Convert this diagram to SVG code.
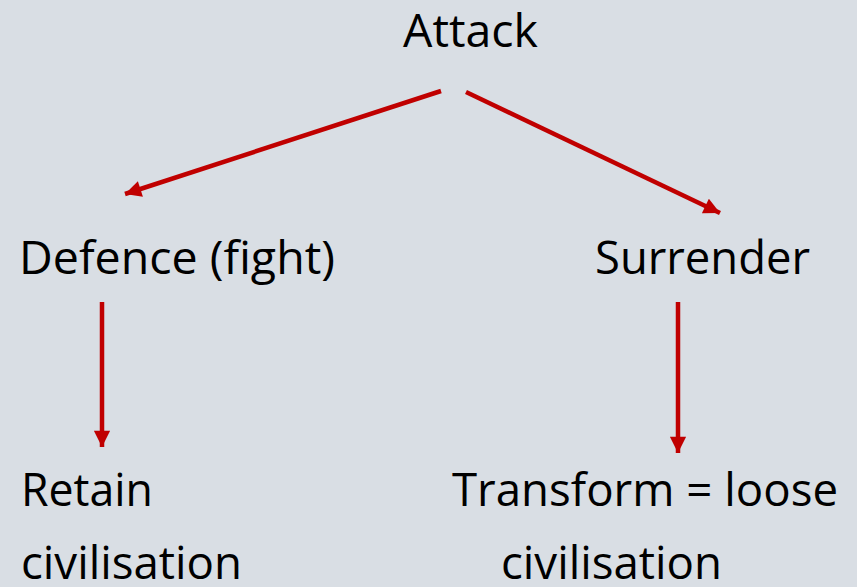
<svg xmlns="http://www.w3.org/2000/svg" width="857" height="587" viewBox="0 0 857 587">
<defs>
<style>
.t{font-family:"Open Sans","Noto Sans","Liberation Sans",sans-serif;font-size:46px;fill:#000;}
.c{stroke:#C00000;stroke-width:4.5;fill:none;}
</style>
<marker id="ah" viewBox="0 0 10 10" refX="10" refY="5" markerWidth="4" markerHeight="3.6" markerUnits="strokeWidth" orient="auto">
<path d="M0,0 L10,5 L0,10 z" fill="#C00000"/>
</marker>
</defs>
<rect width="857" height="587" fill="#D9DEE4"/>
<g id="connectors">
<line class="c" x1="441" y1="91" x2="125" y2="194" marker-end="url(#ah)"/>
<line class="c" x1="466" y1="92" x2="720" y2="213" marker-end="url(#ah)"/>
<line class="c" x1="102" y1="302" x2="102" y2="447" marker-end="url(#ah)"/>
<line class="c" x1="678" y1="302" x2="678" y2="453" marker-end="url(#ah)"/>
</g>
<g id="attack"><text class="t" x="403" y="47" textLength="135" lengthAdjust="spacingAndGlyphs">Attack</text></g>
<g id="defence"><text class="t" x="19" y="274" textLength="316" lengthAdjust="spacingAndGlyphs">Defence (fight)</text></g>
<g id="surrender"><text class="t" x="595" y="274" textLength="215" lengthAdjust="spacingAndGlyphs">Surrender</text></g>
<g id="retain">
<text class="t" x="21" y="506" textLength="132" lengthAdjust="spacingAndGlyphs">Retain</text>
<text class="t" x="21" y="579" textLength="221" lengthAdjust="spacingAndGlyphs">civilisation</text>
</g>
<g id="transform">
<text class="t" x="452" y="506" textLength="386" lengthAdjust="spacingAndGlyphs">Transform = loose</text>
<text class="t" x="501" y="579" textLength="221" lengthAdjust="spacingAndGlyphs">civilisation</text>
</g>
</svg>
